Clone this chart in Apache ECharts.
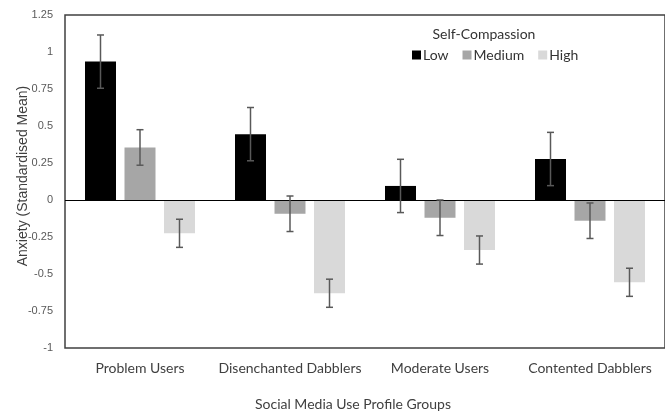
<!DOCTYPE html>
<html>
<head>
<meta charset="utf-8">
<script src="https://cdn.jsdelivr.net/npm/echarts@6/dist/echarts.min.js"></script>
<style>html,body{margin:0;padding:0;background:#fff}#c{width:665px;height:411px}</style>
</head>
<body>
<div id="c"></div>
<script>
var categories = ['Problem Users', 'Disenchanted Dabblers', 'Moderate Users', 'Contented Dabblers'];
var seriesNames = ['Low', 'Medium', 'High'];
var lowValues = [0.935, 0.445, 0.095, 0.277];
var mediumValues = [0.355, -0.093, -0.12, -0.14];
var highValues = [-0.225, -0.63, -0.338, -0.556];
var lowErr = [0.18, 0.18, 0.18, 0.18];
var mediumErr = [0.12, 0.12, 0.12, 0.12];
var highErr = [0.095, 0.095, 0.095, 0.095];
var yTicks = { min: -1, max: 1.25, interval: 0.25 };

var colors = ['#000000', '#a6a6a6', '#d9d9d9'];
var values = [lowValues, mediumValues, highValues];
var errs = [lowErr, mediumErr, highErr];
var BAR_W = 31, GAP = 8.5;

var chart = echarts.init(document.getElementById('c'));
var series = [];
values.forEach(function (v, i) {
  var s = {
    name: seriesNames[i], type: 'bar', data: v, barWidth: BAR_W, barGap: (GAP / BAR_W * 100) + '%',
    itemStyle: { color: colors[i] }, emphasis: { disabled: true }, z: 2
  };
  if (i === 0) {
    s.markLine = {
      silent: true, symbol: ['none', 'none'], label: { show: false },
      lineStyle: { color: '#000', width: 1, type: 'solid' },
      data: [{ yAxis: 0 }], z: 5, animation: false
    };
  }
  series.push(s);
});
values.forEach(function (v, i) {
  series.push({
    type: 'custom', z: 10, silent: true,
    data: v.map(function (m, k) { return [k, m - errs[i][k], m + errs[i][k]]; }),
    renderItem: function (params, api) {
      var off = (i - 1) * (BAR_W + GAP);
      var lo = api.coord([api.value(0), api.value(1)]);
      var hi = api.coord([api.value(0), api.value(2)]);
      var x = lo[0] + off, cap = 3.5;
      var st = { stroke: '#595959', lineWidth: 1.5 };
      return { type: 'group', children: [
        { type: 'line', shape: { x1: x, y1: lo[1], x2: x, y2: hi[1] }, style: st },
        { type: 'line', shape: { x1: x - cap, y1: lo[1], x2: x + cap, y2: lo[1] }, style: st },
        { type: 'line', shape: { x1: x - cap, y1: hi[1], x2: x + cap, y2: hi[1] }, style: st }
      ] };
    }
  });
});

chart.setOption({
  animation: false,
  backgroundColor: '#fff',
  grid: { left: 65, right: -3, top: 15, bottom: 63, show: true, borderColor: '#404040', borderWidth: 1.5, backgroundColor: 'transparent' },
  legend: {
    data: seriesNames, left: 412, top: 48, padding: 0, icon: 'rect', itemWidth: 9, itemHeight: 9, itemGap: 14,
    textStyle: { fontFamily: 'Lato', fontSize: 14, color: '#333', padding: [0, 0, 0, -3] }
  },
  graphic: [
    { type: 'text', x: 484, y: 34, style: { text: 'Self-Compassion', font: '14px Lato', fill: '#333', align: 'center', verticalAlign: 'middle' } },
    { type: 'text', x: 23, y: 176, rotation: Math.PI / 2, style: { text: 'Anxiety (Standardised Mean)', font: '14px "Liberation Sans"', fill: '#404040', align: 'center', verticalAlign: 'middle' } },
    { type: 'text', x: 353, y: 404, style: { text: 'Social Media Use Profile Groups', font: '14px Lato', fill: '#404040', align: 'center', verticalAlign: 'middle' } }
  ],
  xAxis: {
    type: 'category', data: categories,
    axisLine: { show: false, onZero: false }, axisTick: { show: false },
    axisLabel: { interval: 0, fontFamily: 'Lato', fontSize: 14, color: '#404040', margin: 13 }
  },
  yAxis: {
    type: 'value', min: yTicks.min, max: yTicks.max, interval: yTicks.interval,
    axisLine: { show: false }, axisTick: { show: false }, splitLine: { show: false },
    axisLabel: { fontFamily: 'Liberation Sans', fontSize: 11, color: '#595959', margin: 12 }
  },
  series: series
});
</script>
</body>
</html>
